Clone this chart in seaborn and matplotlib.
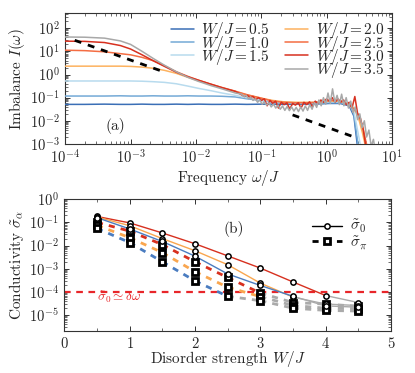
import numpy as np
import matplotlib
matplotlib.use("Agg")
import matplotlib.pyplot as plt
import seaborn as sns
from matplotlib.lines import Line2D
from matplotlib.ticker import LogLocator, NullFormatter

# ---------------- panel (a): imbalance spectra ----------------
freq = [1e-4, 2e-4, 4e-4, 7e-4, 1e-3, 1.5e-3, 2.2e-3, 3.3e-3, 5e-3, 7.5e-3,
        0.011, 0.017, 0.025, 0.04, 0.06, 0.1, 0.15, 0.22, 0.33, 0.5, 0.75,
        1.1, 1.6, 2.2, 2.6, 3.0, 3.5, 4.2, 5.0]

# log10 of I(omega)
logI_05 = [-1.29, -1.29, -1.28, -1.29, -1.29, -1.28, -1.29, -1.29, -1.28, -1.29,
           -1.28, -1.29, -1.29, -1.28, -1.29, -1.28, -1.28, -1.29, -1.28, -1.28, -1.27,
           -1.25, -1.25, -1.35, -1.8, -3.3, -5.0, -5.0, -5.0]
logI_10 = [-0.93, -0.93, -0.93, -0.92, -0.93, -0.93, -0.92, -0.93, -0.93, -0.92,
           -0.93, -0.93, -0.94, -0.97, -1.05, -1.12, -1.2, -1.24, -1.25, -1.25, -1.24,
           -1.22, -1.22, -1.3, -1.7, -3.0, -4.5, -5.0, -5.0]
logI_15 = [-0.28, -0.28, -0.28, -0.28, -0.28, -0.29, -0.31, -0.34, -0.4, -0.5,
           -0.6, -0.7, -0.8, -0.9, -1.0, -1.1, -1.17, -1.2, -1.22, -1.22, -1.2,
           -1.18, -1.18, -1.28, -1.6, -2.5, -3.5, -5.0, -5.0]
logI_20 = [0.36, 0.36, 0.36, 0.36, 0.35, 0.32, 0.27, 0.18, 0.05, -0.12,
           -0.28, -0.44, -0.58, -0.74, -0.88, -1.03, -1.12, -1.18, -1.2, -1.2, -1.2,
           -1.15, -1.15, -1.3, -1.45, -1.8, -2.5, -3.5, -5.0]
logI_25 = [1.05, 1.03, 0.98, 0.9, 0.85, 0.74, 0.6, 0.38, 0.12, -0.08,
           -0.25, -0.42, -0.56, -0.72, -0.87, -1.02, -1.15, -1.2, -1.22, -1.22, -1.2,
           -1.12, -1.12, -1.3, -1.5, -1.7, -2.2, -3.2, -5.0]
logI_30_smooth = [1.44, 1.43, 1.38, 1.25, 1.1, 0.85, 0.6, 0.35, 0.1, -0.1,
                  -0.25, -0.42, -0.57, -0.73]
logI_35_smooth = [1.62, 1.61, 1.57, 1.45, 1.3, 1.0, 0.7, 0.4, 0.12, -0.12,
                  -0.3, -0.48, -0.62, -0.8]

# noisy high-frequency parts (hand-read zigzag)
logI_30_noisy = [-0.88, -0.95, -0.90, -1.0, -0.95, -1.08, -1.0, -1.12, -1.05, -1.35,
                 -1.12, -1.25, -1.15, -1.45, -1.2, -1.3, -1.22, -1.5, -1.25, -1.32,
                 -1.22, -1.45, -1.2, -1.3, -1.18, -1.4, -1.15, -1.25, -1.1, -1.2,
                 -1.05, -1.15, -1.0, -1.2, -1.05, -1.2, -1.1, -1.3, -1.2, -1.45,
                 -0.95, -1.7, -1.9, -2.4, -3.2]
logI_35_noisy = [-0.85, -0.95, -0.90, -1.05, -0.98, -1.12, -1.05, -1.20, -1.10, -1.28,
                 -1.18, -1.33, -1.22, -1.40, -1.28, -1.45, -1.32, -1.50, -1.36, -1.55,
                 -1.38, -1.56, -1.40, -1.58, -1.42, -1.60, -1.40, -1.58, -1.36, -1.55,
                 -1.30, -1.50, -1.22, -1.42, -1.10, -1.35, -1.00, -1.28, -0.80, -1.25,
                 -0.62, -1.20, -0.90, -1.30, -0.85, -1.35, -1.00, -1.45, -1.15, -1.65,
                 -1.40, -1.95, -1.70, -2.30, -2.00, -2.70, -2.40, -3.10, -2.80, -3.40]
freq_noisy_30 = np.geomspace(0.05, 4.0, len(logI_30_noisy))
freq_noisy_35 = np.geomspace(0.05, 5.6, len(logI_35_noisy))

fit_x = [[1.4e-4, 3.5e-3], [0.3, 2.5]]
fit_y = [[30.0, 1.2], [0.018, 2.1e-3]]

W_labels = ["0.5", "1.0", "1.5", "2.0", "2.5", "3.0", "3.5"]
W_colors = ["#3b6fb6", "#74a9d6", "#b8dbee", "#fdb25f", "#f46d43", "#d7301f", "#a8a8a8"]

# ---------------- panel (b): conductivities ----------------
W_b = [0.5, 1.0, 1.5, 2.0, 2.5, 3.0, 3.5, 4.0, 4.5]
sig0_red = [0.18, 0.095, 0.035, 0.012, 3.6e-3, 1.07e-3, 2.7e-4, 7e-5, 3.5e-5]
sig0_orange = [0.17, 0.072, 0.02, 6e-3, 1.5e-3, 2.4e-4, 6e-5, 3e-5, 2.6e-5]
sig0_blue = [0.16, 0.052, 0.015, 3.5e-3, 6e-4, 1.9e-4, 6.5e-5, 2.5e-5, 2.2e-5]
sigpi_red = [0.1, 0.042, 0.011, 2e-3, 4.2e-4, 9e-5, 3.5e-5, 3e-5, 2.4e-5]
sigpi_orange = [0.075, 0.022, 5e-3, 7.5e-4, 1.6e-4, 6.3e-5, 2.6e-5, 2e-5, 1.9e-5]
sigpi_blue = [0.055, 0.0135, 2e-3, 3e-4, 6.5e-5, 4.2e-5, 2e-5, 1.6e-5, 1.5e-5]
threshold = 1e-4
b_colors = ["#d7301f", "#f9a64f", "#4a7cc0"]
gray = "#aaaaaa"

sns.set_style("ticks")
plt.rcParams["font.family"] = "serif"
plt.rcParams["font.serif"] = ["cmr10", "DejaVu Serif"]
plt.rcParams["mathtext.fontset"] = "cm"
plt.rcParams["axes.formatter.use_mathtext"] = True
plt.rcParams["axes.unicode_minus"] = False

fig = plt.figure(figsize=(4.15, 3.73), dpi=100)
ax1 = fig.add_axes([0.157, 0.614, 0.788, 0.351])
ax2 = fig.add_axes([0.155, 0.113, 0.787, 0.353])

curves = [logI_05, logI_10, logI_15, logI_20, logI_25]
handles = []
for lab, col, ly in zip(W_labels[:5], W_colors[:5], curves):
    sns.lineplot(x=freq, y=10.0 ** np.array(ly), ax=ax1, color=col, lw=1.1,
                 sort=False, estimator=None, zorder=3)
    handles.append(Line2D([], [], color=col, lw=1.1, label=rf"$W/J = {lab}$"))

x30 = list(freq[:14]) + list(freq_noisy_30)
y30 = 10.0 ** np.array(logI_30_smooth + logI_30_noisy)
sns.lineplot(x=x30, y=y30, ax=ax1, color=W_colors[5], lw=1.1, sort=False,
             estimator=None, zorder=4)
handles.append(Line2D([], [], color=W_colors[5], lw=1.1, label=rf"$W/J = {W_labels[5]}$"))
x35 = list(freq[:14]) + list(freq_noisy_35)
y35 = 10.0 ** np.array(logI_35_smooth + logI_35_noisy)
sns.lineplot(x=x35, y=y35, ax=ax1, color=W_colors[6], lw=1.1, sort=False,
             estimator=None, zorder=5)
handles.append(Line2D([], [], color=W_colors[6], lw=1.1, label=rf"$W/J = {W_labels[6]}$"))

for fx, fy in zip(fit_x, fit_y):
    ax1.plot(fx, fy, color="black", lw=2.0, dashes=(2.5, 2.5), zorder=6)

ax1.set_xscale("log")
ax1.set_yscale("log")
ax1.set_xlim(1e-4, 10)
ax1.set_ylim(1e-3, 450)
ax1.set_xlabel(r"Frequency $\omega/J$", fontsize=11, labelpad=1)
ax1.set_ylabel(r"Imbalance $I(\omega)$", fontsize=11, labelpad=2)
ax1.text(0.153, 0.137, "(a)", transform=ax1.transAxes, fontsize=11,
         ha="center", va="center")
blank = Line2D([], [], color="none", label=" ")
leg_handles = handles[:3] + [blank] + handles[3:]
ax1.legend(handles=leg_handles, ncol=2, loc="upper right", frameon=False,
           fontsize=11, handlelength=1.5, labelspacing=-0.45, columnspacing=1.0,
           handletextpad=0.5, borderaxespad=0.0, bbox_to_anchor=(0.995, 0.99))

# panel (b)
ax2.axhline(threshold, color="#e8262a", lw=1.6, dashes=(3, 2.5), zorder=2)
ax2.text(0.5, 6e-5, r"$\tilde{\sigma}_0 \simeq \delta\omega$", color="#e8262a",
         fontsize=9.5, ha="left", va="center")

series0 = [sig0_red, sig0_orange, sig0_blue]
seriespi = [sigpi_red, sigpi_orange, sigpi_blue]
for col, s0, sp in zip(b_colors, series0, seriespi):
    for i in range(len(W_b) - 1):
        c0 = col if s0[i] > threshold else gray
        ax2.plot(W_b[i:i + 2], s0[i:i + 2], color=c0, lw=1.0,
                 zorder=4 if c0 == col else 3)
        cp = col if sp[i] > threshold else gray
        ax2.plot(W_b[i:i + 2], sp[i:i + 2], color=cp, lw=2.0, dashes=(2.2, 2.2),
                 zorder=4 if cp == col else 3)

for s0, sp in zip(series0, seriespi):
    ax2.plot(W_b, sp, ls="none", marker="s", ms=4.5, mfc="white", mec="black",
             mew=2.0, zorder=6)
    ax2.plot(W_b, s0, ls="none", marker="o", ms=3.8, mfc="white", mec="black",
             mew=1.1, zorder=7)

ax2.set_yscale("log")
ax2.set_xlim(0, 5)
ax2.set_ylim(2.1e-6, 1.0)
ax2.set_xticks([0, 1, 2, 3, 4, 5])
ax2.set_xticks([0.5, 1.5, 2.5, 3.5, 4.5], minor=True)
ax2.set_xlabel(r"Disorder strength $W/J$", fontsize=11, labelpad=-1)
ax2.set_ylabel(r"Conductivity $\tilde{\sigma}_\alpha$", fontsize=11, labelpad=2)
ax2.text(0.52, 0.77, "(b)", transform=ax2.transAxes, fontsize=11,
         ha="center", va="center")
lh = [Line2D([], [], color="black", lw=1.0, marker="o", ms=3.8, mfc="white",
             mec="black", mew=1.1, label=r"$\tilde{\sigma}_0$"),
      Line2D([], [], color="black", lw=2.0, dashes=(2.2, 2.2), marker="s", ms=4.5,
             mfc="white", mec="black", mew=2.0, label=r"$\tilde{\sigma}_\pi$")]
ax2.legend(handles=lh, loc="upper right", frameon=False, fontsize=11,
           handlelength=2.0, labelspacing=-0.12, handletextpad=0.5,
           bbox_to_anchor=(0.97, 0.96))

for ax in (ax1, ax2):
    ax.yaxis.set_major_locator(LogLocator(base=10, numticks=20))
    ax.yaxis.set_minor_locator(LogLocator(base=10, subs=np.arange(2, 10), numticks=20))
    ax.yaxis.set_minor_formatter(NullFormatter())
    ax.tick_params(which="both", direction="in", top=True, right=True,
                   labelsize=10.5, color="#333333")
    ax.tick_params(which="major", length=3.5, width=0.7)
    ax.tick_params(which="minor", length=2, width=0.5)
    ax.tick_params(axis="y", which="major", pad=4)
    for sp_ in ax.spines.values():
        sp_.set_linewidth(0.8)
        sp_.set_color("#333333")
ax1.xaxis.set_major_locator(LogLocator(base=10, numticks=20))
ax1.xaxis.set_minor_locator(LogLocator(base=10, subs=np.arange(2, 10), numticks=20))
ax1.xaxis.set_minor_formatter(NullFormatter())

fig.savefig("out.png", dpi=100)
